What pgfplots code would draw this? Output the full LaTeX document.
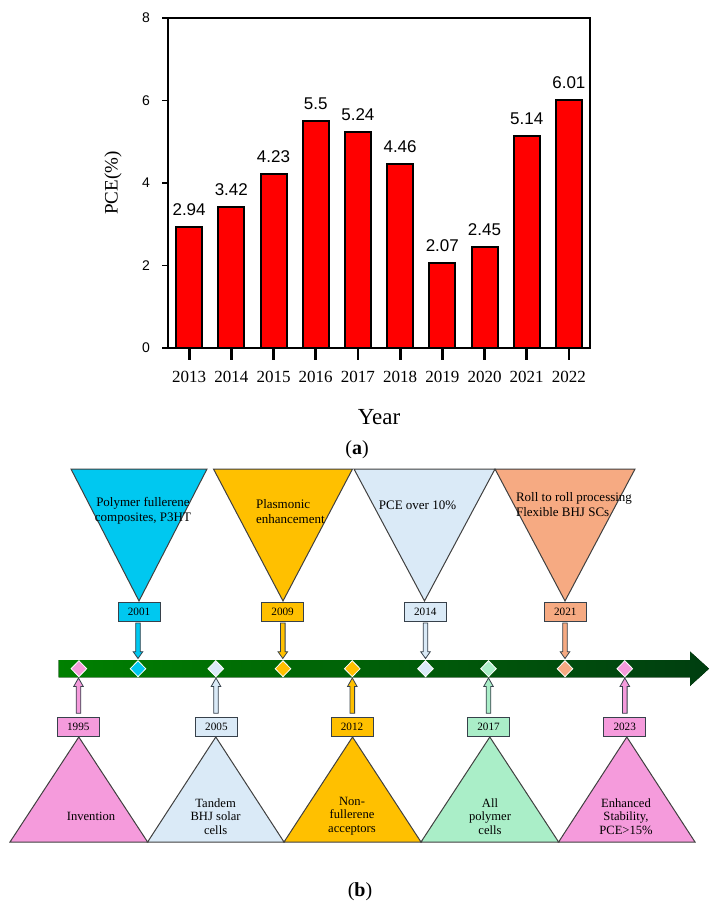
\documentclass[border=0pt]{standalone}
\usepackage{pgfplots}
\pgfplotsset{compat=1.18}
\usepackage{fontspec}
\setmainfont{Liberation Serif}
\newfontfamily\sansf{Liberation Sans}
\definecolor{cy}{RGB}{0,200,240}
\definecolor{org}{RGB}{255,192,0}
\definecolor{lb}{RGB}{218,234,247}
\definecolor{sal}{RGB}{246,170,130}
\definecolor{pk}{RGB}{245,155,220}
\definecolor{mint}{RGB}{170,238,200}
\definecolor{edge}{RGB}{55,65,75}
\definecolor{gL}{RGB}{0,128,0}
\definecolor{gR}{RGB}{0,62,16}
\newcommand{\yrfont}{\fontsize{5.6}{6}\selectfont}
\newcommand{\topfont}{\fontsize{6.5}{7.5}\selectfont}
\newcommand{\botfont}{\fontsize{6.3}{6.8}\selectfont}
% top inverted triangle: center, half width, colour
\newcommand{\toptri}[3]{%
  \filldraw[fill=#3, draw=black!75, line width=0.5pt] (axis cs:{#1-#2},469) -- (axis cs:{#1+#2},469) -- (axis cs:#1,601) -- cycle;}
\newcommand{\bottri}[3]{%
  \filldraw[fill=#3, draw=black!75, line width=0.5pt] (axis cs:{#1-#2},842) -- (axis cs:{#1+#2},842) -- (axis cs:#1,737) -- cycle;}
\newcommand{\yrbox}[4]{% x, y, colour, text
  \node[draw=edge, fill=#3, line width=0.5pt, minimum width=21pt, minimum height=9.5pt, inner sep=0pt, font=\yrfont] at (axis cs:#1,#2) {#4};}
\newcommand{\darrow}[2]{%
  \filldraw[fill=#2, draw=edge, line width=0.4pt] (axis cs:{#1-2.3},623) -- (axis cs:{#1+2.3},623) -- (axis cs:{#1+2.3},651.7) -- (axis cs:{#1+4.8},651.7) -- (axis cs:#1,658.5) -- (axis cs:{#1-4.8},651.7) -- (axis cs:{#1-2.3},651.7) -- cycle;}
\newcommand{\uarrow}[2]{%
  \filldraw[fill=#2, draw=edge, line width=0.4pt] (axis cs:{#1-2.3},713.3) -- (axis cs:{#1+2.3},713.3) -- (axis cs:{#1+2.3},686.5) -- (axis cs:{#1+4.8},686.5) -- (axis cs:#1,678) -- (axis cs:{#1-4.8},686.5) -- (axis cs:{#1-2.3},686.5) -- cycle;}
\newcommand{\diam}[2]{%
  \filldraw[fill=#2, draw=white, line width=0.4pt] (axis cs:#1,660.7) -- (axis cs:{#1+7.8},668.7) -- (axis cs:#1,676.7) -- (axis cs:{#1-7.8},668.7) -- cycle;}
\begin{document}
\begin{tikzpicture}
% ---------- canvas for the timeline (pixel units, y downwards) ----------
\begin{axis}[name=canvas, at={(0pt,0pt)}, anchor=south west, scale only axis,
  width=357.5pt, height=454pt, xmin=0, xmax=715, ymin=0, ymax=908,
  y dir=reverse, hide axis, clip=false]
\path (axis cs:0,0) rectangle (axis cs:715,908);
\node[font=\fontsize{10}{12}\selectfont] at (axis cs:357,450) {(\textbf{a})};
\node[font=\fontsize{10}{12}\selectfont] at (axis cs:360,892) {(\textbf{b})};
% top triangles
\toptri{139}{68}{cy}
\toptri{283}{69.5}{org}
\toptri{424.5}{70.5}{lb}
\toptri{565}{70}{sal}
\node[font=\topfont, align=center] at (axis cs:143,511) {Polymer fullerene\\composites, P3HT};
\node[font=\topfont, align=left, anchor=west] at (axis cs:249,511.5) {Plasmonic\\enhancement};
\node[font=\topfont] at (axis cs:417.5,505.7) {PCE over 10\%};
\node[font=\topfont, align=left, anchor=west] at (axis cs:509,504.5) {Roll to roll processing\\Flexible BHJ SCs};
% top boxes and arrows
\yrbox{139}{612.1}{cy}{2001}
\yrbox{282.6}{612.1}{org}{2009}
\yrbox{425.3}{612.1}{lb}{2014}
\yrbox{565.3}{612.1}{sal}{2021}
\darrow{138}{cy}
\darrow{282.8}{org}
\darrow{425.5}{lb}
\darrow{565}{sal}
% main green arrow
\fill[left color=gL, right color=gR] (axis cs:58.5,660) -- (axis cs:690,660) -- (axis cs:690,651.5) -- (axis cs:709,668.7) -- (axis cs:690,686) -- (axis cs:690,677.3) -- (axis cs:58.5,677.3) -- cycle;
\diam{78.9}{pk}
\diam{138}{cy}
\diam{215.8}{lb}
\diam{283}{org}
\diam{352.3}{org}
\diam{425.5}{lb}
\diam{488.5}{mint}
\diam{565}{sal}
\diam{624.8}{pk}
% bottom arrows, boxes and triangles
\uarrow{78.5}{pk}
\uarrow{216}{lb}
\uarrow{352.3}{org}
\uarrow{488.5}{mint}
\uarrow{624.8}{pk}
\bottri{78.8}{68.8}{pk}
\bottri{215.8}{68.2}{lb}
\bottri{352.5}{68.5}{org}
\bottri{489.8}{68.8}{mint}
\bottri{626.8}{68.2}{pk}
\yrbox{78.3}{727.2}{pk}{1995}
\yrbox{216.4}{727.2}{lb}{2005}
\yrbox{352}{727.2}{org}{2012}
\yrbox{488.5}{727.2}{mint}{2017}
\yrbox{624.7}{727.2}{pk}{2023}
\node[font=\botfont] at (axis cs:91,816) {Invention};
\node[font=\botfont, align=center] at (axis cs:215.6,816.5) {Tandem\\BHJ solar\\cells};
\node[font=\botfont, align=center] at (axis cs:352,816) {Non-\\fullerene\\acceptors};
\node[font=\botfont, align=center] at (axis cs:490,816.5) {All\\polymer\\cells};
\node[font=\botfont, align=center] at (axis cs:626,816.5) {Enhanced\\Stability,\\PCE\textgreater15\%};
\end{axis}
% ---------- bar chart (a) ----------
\begin{axis}[at={(84pt,280pt)}, anchor=south west, scale only axis,
  width=211pt, height=165pt,
  xmin=-0.5, xmax=9.5, ymin=0, ymax=8,
  xtick={0,...,9}, xticklabels={2013,2014,2015,2016,2017,2018,2019,2020,2021,2022},
  ytick={0,2,4,6,8},
  tick align=outside, xtick pos=bottom, ytick pos=left,
  major tick length=3pt,
  every tick/.style={black},
  xtick style={black, line width=1.4pt, /pgfplots/major tick length=6pt},
  ytick style={black, line width=0.9pt},
  axis line style={line width=1pt},
  xticklabel style={font=\fontsize{8.5}{10}\selectfont, yshift=-5pt},
  yticklabel style={font=\sansf\fontsize{7}{8}\selectfont, xshift=-2.5pt},
  /pgf/number format/assume math mode=true,
  xlabel={Year}, ylabel={PCE(\%)},
  xlabel style={font=\fontsize{11.5}{13}\selectfont, at={(axis description cs:0.5,-0.208)}, anchor=center},
  ylabel style={font=\fontsize{9.5}{11}\selectfont, at={(axis description cs:-0.130,0.5)}, anchor=center},
]
\addplot[ybar, bar width=13pt, fill=red, draw=black, line width=1pt,
  nodes near coords, point meta=explicit symbolic,
  every node near coord/.append style={font=\sansf\fontsize{8.5}{10}\selectfont, inner sep=0pt, anchor=south, yshift=5pt}]
  coordinates {(0,2.94)[2.94] (1,3.42)[3.42] (2,4.23)[4.23] (3,5.5)[5.5] (4,5.24)[5.24]
               (5,4.46)[4.46] (6,2.07)[2.07] (7,2.45)[2.45] (8,5.14)[5.14] (9,6.01)[6.01]};
\end{axis}
\end{tikzpicture}
\end{document}
